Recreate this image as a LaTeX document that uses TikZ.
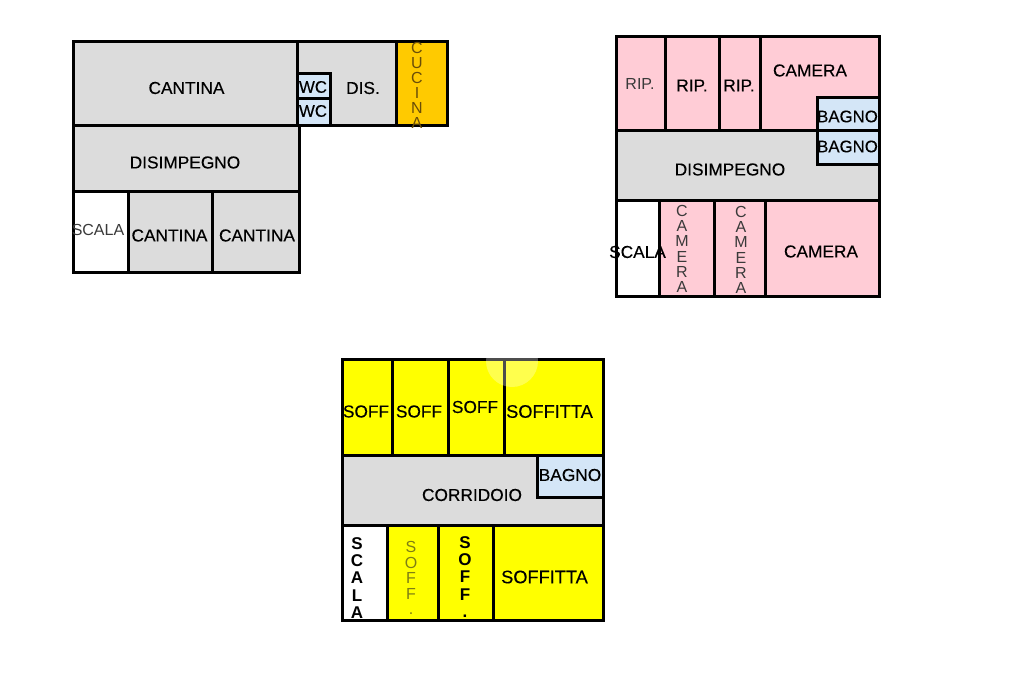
\documentclass[tikz,border=0pt]{standalone}
\usepackage{fontspec}
\setmainfont{Liberation Sans}
\newfontfamily\pesante[FakeBold=0.25]{Liberation Sans}
\definecolor{grigio}{HTML}{DCDCDC}
\definecolor{rosa}{HTML}{FFCCD6}
\definecolor{azzurro}{HTML}{D4E6F7}
\definecolor{arancio}{HTML}{FFCA00}
\definecolor{giallo}{HTML}{FFFF00}
\definecolor{tenue}{HTML}{3A3A3A}
\definecolor{oliva}{HTML}{7E7E14}
\definecolor{bruno}{HTML}{6A4E08}
\newcommand{\stanza}[5]{\draw[wall,fill=#5] (#1,#2) rectangle (#3,#4);}
\tikzset{
  wall/.style={draw=black,line width=3pt,line join=miter},
  lab/.style={inner sep=0pt,text=black,font=\pesante\fontsize{17.3}{20}\selectfont},
  labw/.style={inner sep=0pt,text=black,font=\pesante\fontsize{18.2}{20}\selectfont},
  thin/.style={inner sep=0pt,text=tenue,font=\fontsize{16}{20}\selectfont},
  small/.style={inner sep=0pt,text=black,font=\pesante\fontsize{16.8}{20}\selectfont},
  vthin/.style={inner sep=0pt,align=center,text=tenue,font=\fontsize{16}{15.3}\selectfont},
  vthino/.style={inner sep=0pt,align=center,text=oliva,font=\fontsize{16}{15.5}\selectfont},
  vthinb/.style={inner sep=0pt,align=center,text=bruno,font=\fontsize{16}{15}\selectfont},
  vbold/.style={inner sep=0pt,align=center,text=black,font=\fontsize{17}{17.3}\selectfont\bfseries}
}
\begin{document}
\begin{tikzpicture}[x=1pt,y=-1pt]
\useasboundingbox (0,0) rectangle (1024,682);
% Plan 1
\stanza{73.5}{42}{297}{125}{grigio}
\stanza{297}{42}{396}{125}{grigio}
\stanza{396}{42}{447}{125}{arancio}
\stanza{297}{74}{330}{99}{azzurro}
\stanza{297}{99}{330}{125}{azzurro}
\stanza{73.5}{125}{299}{191}{grigio}
\stanza{73.5}{191}{128}{272}{white}
\stanza{128}{191}{212}{272}{grigio}
\stanza{212}{191}{299}{272}{grigio}
\node[lab] (a1) at (186.5,88) {CANTINA};
\node[lab] (a2) at (363,88) {DIS.};
\node[small] (a3) at (313,87) {WC};
\node[small] (a4) at (313,111) {WC};
\node[vthinb] (a5) at (417,85) {C\\U\\C\\I\\N\\A};
\node[lab] (a6) at (185,162.5) {DISIMPEGNO};
\node[thin] (a7) at (98,230) {SCALA};
\node[lab] (a8) at (169.5,235.5) {CANTINA};
\node[lab] (a9) at (257,235.5) {CANTINA};
% Plan 2
\stanza{616}{37}{665}{130}{rosa}
\stanza{665}{37}{719}{130}{rosa}
\stanza{719}{37}{760}{130}{rosa}
\stanza{760}{37}{879}{130}{rosa}
\stanza{616}{130}{879}{200}{grigio}
\stanza{817}{98}{879}{130}{azzurro}
\stanza{817}{130}{879}{164}{azzurro}
\stanza{616}{200}{659}{296}{white}
\stanza{659}{200}{714}{296}{rosa}
\stanza{714}{200}{765}{296}{rosa}
\stanza{765}{200}{879}{296}{rosa}
\node[thin] (b1) at (640,84) {RIP.};
\node[lab] (b2) at (692,85.5) {RIP.};
\node[lab] (b3) at (739,85.5) {RIP.};
\node[lab] (b4) at (810,70.5) {CAMERA};
\node[small] (b5) at (847.5,116.5) {BAGNO};
\node[small] (b6) at (847.5,146.5) {BAGNO};
\node[lab] (b7) at (730,169.5) {DISIMPEGNO};
\node[lab] (b8) at (637.5,252) {SCALA};
\node[vthin] (b9) at (682,249) {C\\A\\M\\E\\R\\A};
\node[vthin] (b10) at (741,250) {C\\A\\M\\E\\R\\A};
\node[lab] (b11) at (821,251.5) {CAMERA};
% Plan 3
\stanza{342}{359.5}{392}{455}{giallo}
\stanza{392}{359.5}{448}{455}{giallo}
\stanza{448}{359.5}{504}{455}{giallo}
\stanza{504}{359.5}{603}{455}{giallo}
\stanza{342}{455}{603}{525}{grigio}
\stanza{537}{455}{603}{497}{azzurro}
\stanza{342}{525}{387}{620}{white}
\stanza{387}{525}{438}{620}{giallo}
\stanza{438}{525}{493}{620}{giallo}
\stanza{493}{525}{603}{620}{giallo}
\begin{scope}
\clip (480,357) rectangle (545,400);
\fill[white,opacity=.3] (512,361) circle (26);
\end{scope}
\node[lab] (c1) at (366,411.5) {SOFF};
\node[lab] (c2) at (419,411.5) {SOFF};
\node[lab] (c3) at (475,407) {SOFF};
\node[labw] (c4) at (549.5,411.5) {SOFFITTA};
\node[lab] (c5) at (472,495) {CORRIDOIO};
\node[lab] (c6) at (570,475) {BAGNO};
\node[vbold] (c7) at (357,578) {S\\C\\A\\L\\A};
\node[vthino] (c8) at (411,578) {S\\O\\F\\F\\.};
\node[vbold] (c9) at (465,577) {S\\O\\F\\F\\.};
\node[labw] (c10) at (544.5,577) {SOFFITTA};
\end{tikzpicture}
\end{document}
